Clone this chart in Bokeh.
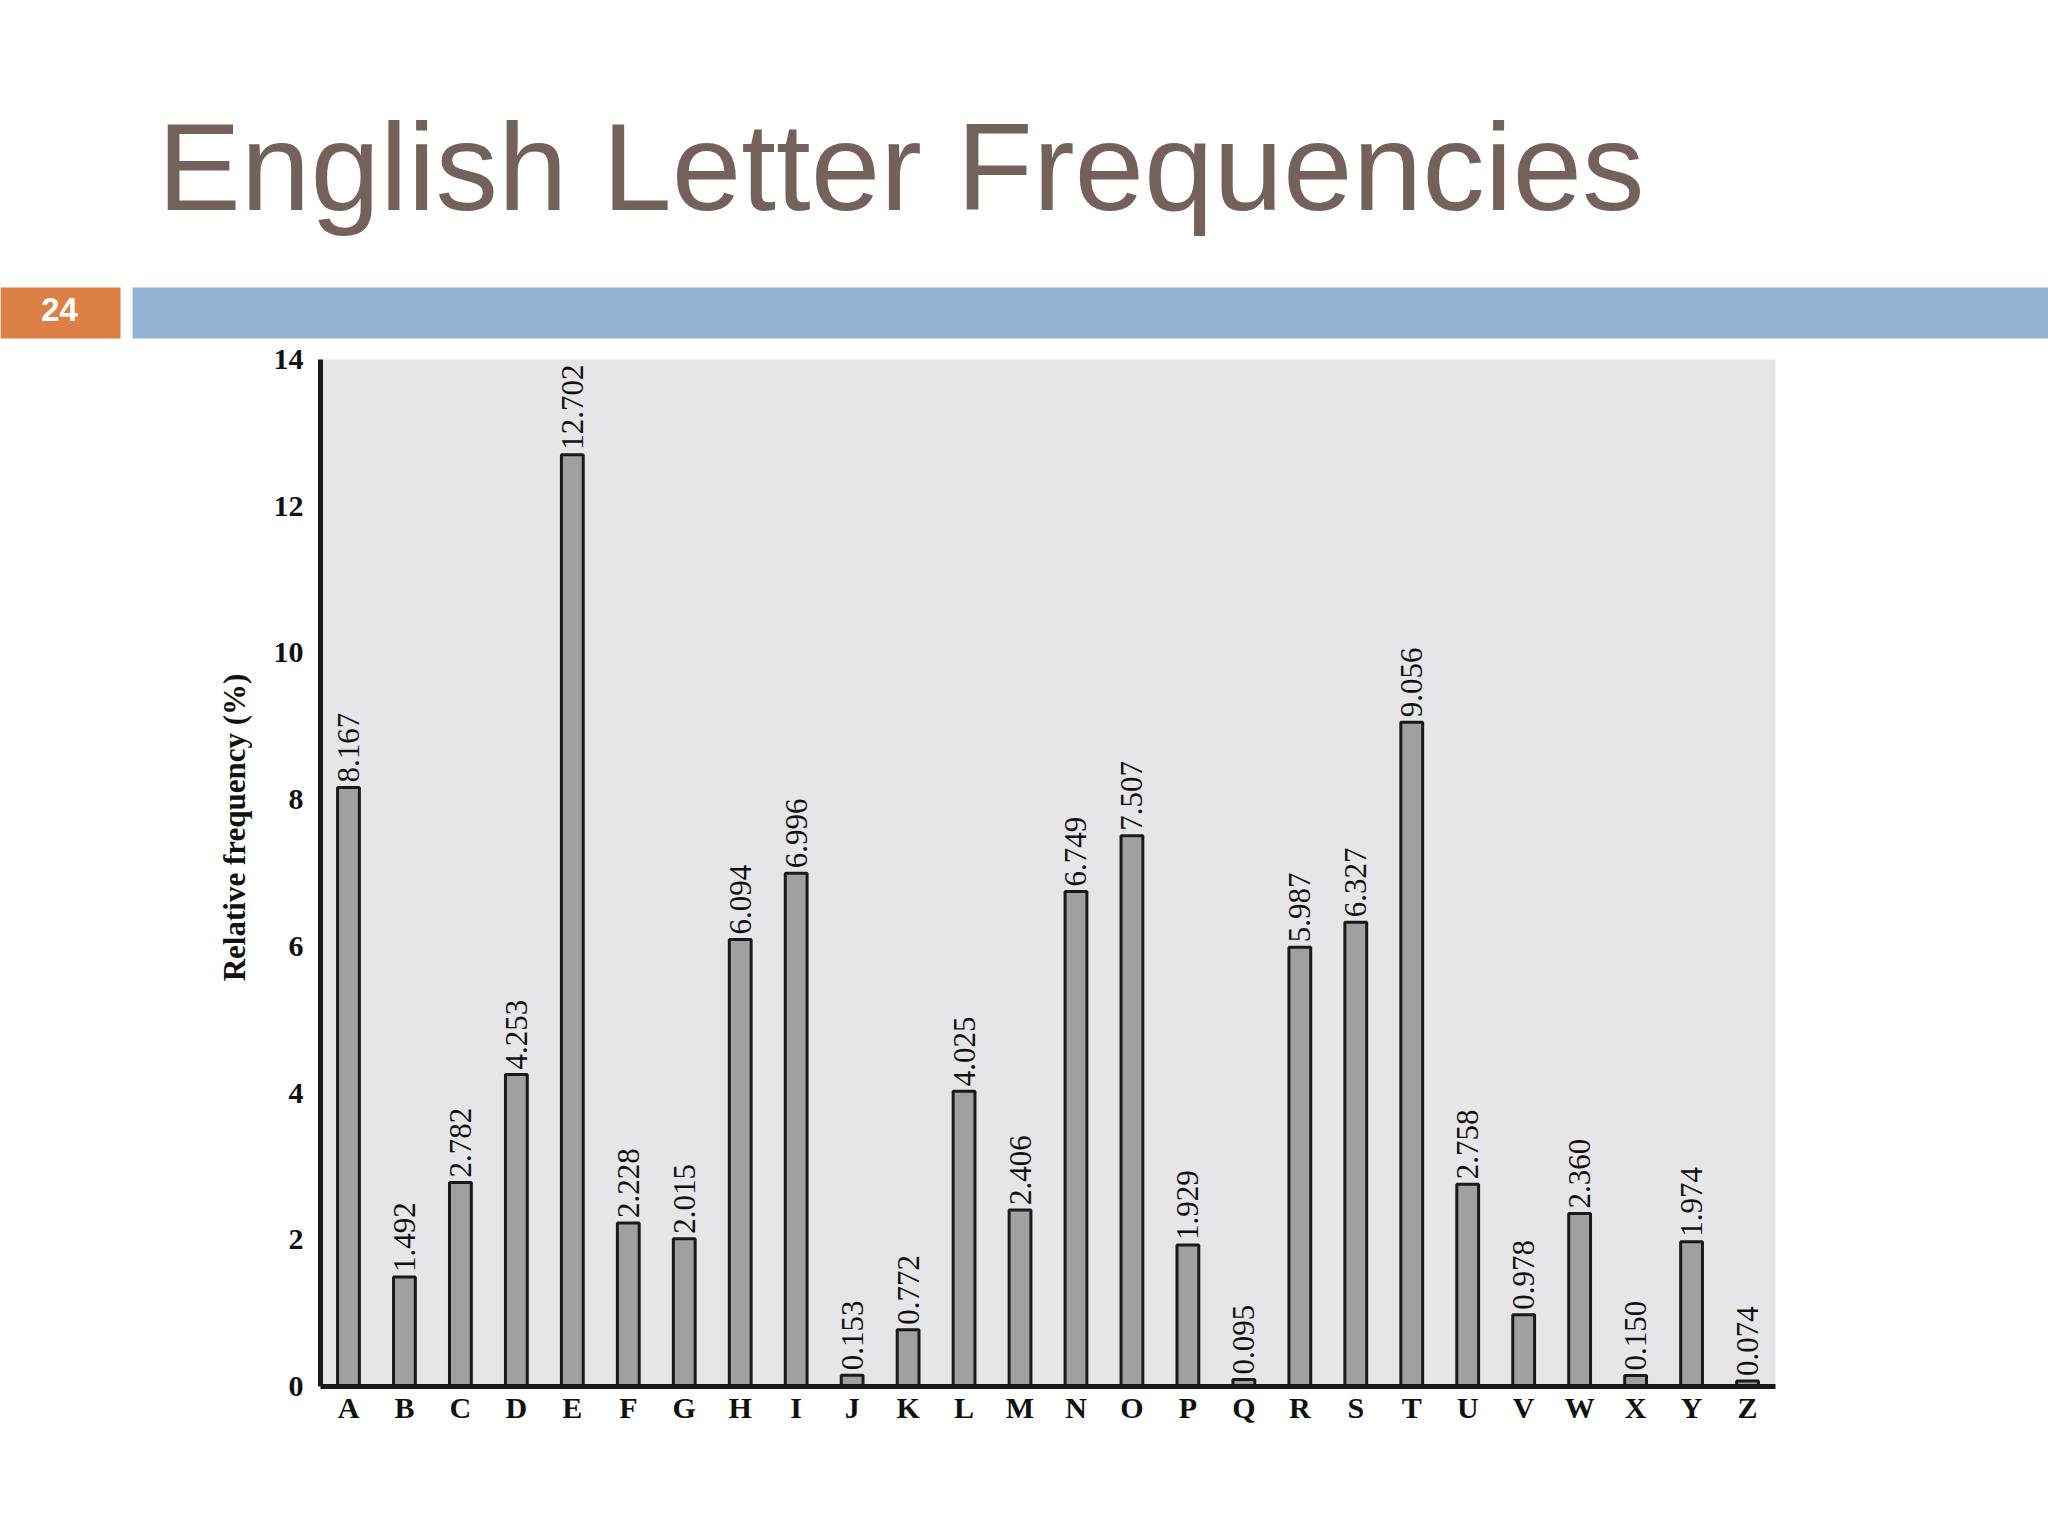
from bokeh.plotting import figure
from bokeh.models import (ColumnDataSource, Range1d, FixedTicker, LinearAxis, Label)
from bokeh.embed import file_html
from bokeh.resources import INLINE
from bokeh.core.properties import value

letters = list("ABCDEFGHIJKLMNOPQRSTUVWXYZ")
freqs = [8.167, 1.492, 2.782, 4.253, 12.702, 2.228, 2.015, 6.094, 6.996, 0.153,
         0.772, 4.025, 2.406, 6.749, 7.507, 1.929, 0.095, 5.987, 6.327, 9.056,
         2.758, 0.978, 2.360, 0.150, 1.974, 0.074]
y_ticks = [0, 2, 4, 6, 8, 10, 12, 14]
title_text = "English Letter Frequencies"
slide_number = "24"
y_label = "Relative frequency (%)"

# ---- layout geometry (pixels on the canvas) ----
W, H = 2048, 1500
AREA_L, AREA_R = 320, 1775      # grey plotting area, left/right edge
AREA_T, AREA_B = 359, 1386      # grey plotting area, top/bottom edge
Y_MAX = 14.0
N = len(letters)
UX = (AREA_R - AREA_L) / N      # pixels per category slot
UY = (AREA_B - AREA_T) / Y_MAX  # pixels per percent


def dx(px):  # canvas px -> data x (category slot i is centred at i + 1)
    return 0.5 + (px - AREA_L) / UX


def dy(py):  # canvas px -> data y (percent)
    return (AREA_B - py) / UY


positions = list(range(1, N + 1))
src = ColumnDataSource(dict(x=positions, letter=letters, freq=freqs,
                            label=["%.3f" % f for f in freqs]))

p = figure(width=W, height=H, x_range=Range1d(dx(0), dx(W)), y_range=Range1d(dy(H), dy(0)),
           x_axis_location=None, y_axis_location=None, min_border=0,
           output_backend="svg", toolbar_location=None)
p.background_fill_color = "white"
p.border_fill_color = "white"
p.outline_line_color = None
p.xgrid.grid_line_color = None
p.ygrid.grid_line_color = None

# grey plotting area
p.quad(left=[0.5], right=[N + 0.5], bottom=[0], top=[Y_MAX],
       fill_color="#e6e5e8", line_color=None)

# bars and value labels
p.vbar(x="x", top="freq", width=0.39, bottom=0, source=src,
       fill_color="#a0a0a2", line_color="#1a1a1a", line_width=3)
p.text(x="x", y="freq", text="label", source=src, angle=1.5707963,
       text_align="left", text_baseline="middle", y_offset=-5,
       text_font=value("Liberation Serif"), text_font_size="31px", text_color="#111111")

# axes at fixed locations on the grey area's edges
yax = LinearAxis(fixed_location=0.5, bounds=(0, Y_MAX), ticker=FixedTicker(ticks=y_ticks))
xax = LinearAxis(fixed_location=0, bounds=(0.5, N + 0.5), ticker=FixedTicker(ticks=positions))
xax.major_label_overrides = {pos: let for pos, let in zip(positions, letters)}
for ax in (xax, yax):
    ax.axis_line_width = 5
    ax.axis_line_color = "#1a1a1a"
    ax.major_tick_line_color = None
    ax.minor_tick_line_color = None
    ax.major_tick_in = 0
    ax.major_tick_out = 0
    ax.major_label_text_font = "Liberation Serif"
    ax.major_label_text_font_style = "bold"
    ax.major_label_text_font_size = "30px"
    ax.major_label_text_color = "#111111"
yax.major_label_standoff = 17
xax.major_label_standoff = 4
p.add_layout(yax, "left")
p.add_layout(xax, "below")

# y-axis title
p.add_layout(Label(x=dx(234), y=dy(827), text=y_label, angle=1.5707963,
                   text_align="center", text_baseline="middle",
                   text_font="Liberation Serif", text_font_style="bold",
                   text_font_size="31px", text_color="#111111"))

# slide header: number box, rule and title
p.quad(left=[dx(0)], right=[dx(120)], top=[dy(287)], bottom=[dy(338)],
       fill_color="#dd8047", line_color=None)
p.quad(left=[dx(132)], right=[dx(W)], top=[dy(287)], bottom=[dy(338)],
       fill_color="#93b4d4", line_color=None)
p.add_layout(Label(x=dx(59), y=dy(309), text=slide_number, text_align="center",
                   text_baseline="middle", text_font="Liberation Sans",
                   text_font_style="bold", text_font_size="33px", text_color="white"))
p.add_layout(Label(x=dx(157), y=dy(166), text=title_text, text_align="left",
                   text_baseline="alphabetic", text_font="Liberation Sans",
                   text_font_size="125px", text_color="#74625a"))

open("out.html", "w").write(file_html(p, INLINE))
